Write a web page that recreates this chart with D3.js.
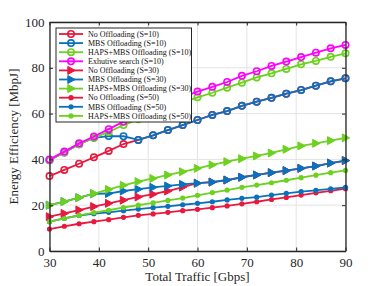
<!DOCTYPE html>
<html>
<head>
<meta charset="utf-8">
<script src="https://cdn.jsdelivr.net/npm/d3@7"></script>
<style>
  body { margin: 0; background: #fff; }
  svg text { font-family: "Liberation Serif", "DejaVu Serif", serif; }
</style>
</head>
<body>
<div id="chart"></div>
<script>
// traffic values (Gbps), one point every 3 Gbps
var traffic = [30, 33, 36, 39, 42, 45, 48, 51, 54, 57, 60, 63, 66, 69, 72, 75, 78, 81, 84, 87, 90];

// energy efficiency [MbpJ]
var noOff10   = [32.7, 35.4, 38.1, 40.9, 43.7, 46.7, 48.5, 50.5, 52.8, 55.0, 57.2, 59.4, 61.1, 63.4, 65.2, 66.9, 68.7, 70.3, 72.2, 74.1, 75.4];
var mbs10     = [39.6, 43.0, 46.6, 49.4, 50.2, 50.1, 48.5, 50.5, 52.8, 55.0, 57.2, 59.4, 61.1, 63.4, 65.2, 66.9, 68.7, 70.3, 72.2, 74.1, 75.4];
var haps10    = [39.6, 43.0, 46.6, 49.4, 52.0, 55.0, 57.5, 60.0, 62.5, 64.8, 67.1, 69.1, 71.3, 73.5, 75.8, 77.6, 79.5, 81.5, 83.0, 84.8, 86.3];
var exhaust10 = [40.0, 43.4, 47.0, 50.0, 53.2, 56.5, 59.5, 62.3, 64.9, 67.3, 69.6, 71.7, 73.8, 76.5, 78.5, 80.8, 82.7, 84.7, 86.6, 88.5, 90.0];
var noOff30   = [15.0, 16.4, 17.9, 19.4, 20.8, 22.2, 23.6, 24.8, 26.2, 27.9, 29.6, 30.1, 31.0, 32.2, 33.2, 34.2, 35.1, 36.1, 37.1, 38.4, 39.5];
var mbs30     = [20.0, 21.6, 23.3, 25.0, 25.1, 26.2, 27.0, 27.8, 28.4, 29.1, 29.6, 30.1, 31.0, 32.2, 33.2, 34.2, 35.1, 36.1, 37.1, 38.4, 39.5];
var haps30    = [20.0, 21.6, 23.3, 25.1, 26.9, 28.7, 30.3, 31.7, 33.2, 34.6, 36.1, 37.6, 39.0, 40.3, 41.5, 42.8, 44.4, 45.9, 47.0, 48.2, 49.4];
var noOff50   = [9.6, 10.8, 11.9, 12.8, 13.7, 14.7, 15.6, 16.2, 16.9, 17.6, 18.2, 18.9, 19.7, 20.6, 21.5, 22.5, 23.4, 24.4, 25.4, 26.3, 27.2];
var mbs50     = [12.8, 14.2, 15.5, 16.3, 16.9, 17.6, 18.3, 18.9, 19.5, 20.2, 20.8, 21.5, 22.3, 23.0, 23.5, 24.4, 25.2, 25.9, 26.5, 27.1, 27.8];
var haps50    = [12.8, 14.2, 15.6, 16.8, 17.8, 19.0, 20.0, 21.0, 22.1, 23.1, 24.3, 25.5, 26.6, 27.8, 28.8, 29.8, 30.9, 32.0, 33.1, 34.2, 35.2];

var seriesNames = [
  "No Offloading (S=10)", "MBS Offloading (S=10)", "HAPS+MBS Offloading (S=10)", "Exhutive search (S=10)",
  "No Offloading (S=30)", "MBS Offloading (S=30)", "HAPS+MBS Offloading (S=30)",
  "No Offloading (S=50)", "MBS Offloading (S=50)", "HAPS+MBS Offloading (S=50)"
];
var seriesValues = [noOff10, mbs10, haps10, exhaust10, noOff30, mbs30, haps30, noOff50, mbs50, haps50];

var xTicks = [30, 40, 50, 60, 70, 80, 90];
var yTicks = [0, 20, 40, 60, 80, 100];

var red = "#e8193f", blue = "#0a72bd", green = "#6dd11f", magenta = "#ff00ff";
var styles = [
  { color: red,     marker: "circle" },
  { color: blue,    marker: "circle" },
  { color: green,   marker: "circle" },
  { color: magenta, marker: "circle" },
  { color: red,     marker: "tri" },
  { color: blue,    marker: "tri" },
  { color: green,   marker: "tri" },
  { color: red,     marker: "dot" },
  { color: blue,    marker: "dot" },
  { color: green,   marker: "dot" }
];

var svgWidth = 382, svgHeight = 286;
var plot = { left: 49.5, right: 345.5, top: 22, bottom: 251 };

var svg = d3.select("#chart").append("svg")
  .attr("width", svgWidth)
  .attr("height", svgHeight);

var xScale = d3.scaleLinear().domain([30, 90]).range([plot.left, plot.right]);
var yScale = d3.scaleLinear().domain([0, 100]).range([plot.bottom, plot.top]);

// grid lines
var grid = svg.append("g");
grid.selectAll(".gx").data(xTicks).enter().append("line")
  .attr("x1", d => xScale(d)).attr("x2", d => xScale(d))
  .attr("y1", plot.top).attr("y2", plot.bottom)
  .attr("stroke", "#e3e3e3").attr("stroke-width", 1);
grid.selectAll(".gy").data(yTicks).enter().append("line")
  .attr("x1", plot.left).attr("x2", plot.right)
  .attr("y1", d => yScale(d)).attr("y2", d => yScale(d))
  .attr("stroke", "#e3e3e3").attr("stroke-width", 1);

// draw a marker at (0,0) into a group
function drawMarker(g, s) {
  if (s.marker === "circle") {
    g.append("circle").attr("r", 3.2)
      .attr("fill", "none").attr("stroke", s.color).attr("stroke-width", 1.6);
  } else if (s.marker === "tri") {
    g.append("path").attr("d", d3.line()([[-3.2, -4], [4.2, 0], [-3.2, 4]]) + "Z")
      .attr("fill", s.color).attr("stroke", s.color).attr("stroke-width", 1);
  } else {
    g.append("circle").attr("r", 2.6).attr("fill", s.color);
  }
}

// series lines and markers
var line = d3.line().x(d => xScale(d[0])).y(d => yScale(d[1]));
seriesValues.forEach(function(vals, i) {
  var s = styles[i];
  var pts = traffic.map((t, j) => [t, vals[j]]);
  var g = svg.append("g");
  g.append("path").datum(pts)
    .attr("d", line)
    .attr("fill", "none")
    .attr("stroke", s.color)
    .attr("stroke-width", 1.8);
  pts.forEach(function(p) {
    var m = g.append("g").attr("transform", `translate(${xScale(p[0])},${yScale(p[1])})`);
    drawMarker(m, s);
  });
});

// axes box with inward ticks on all sides
var axisG = svg.append("g");
axisG.append("g").attr("transform", `translate(0,${plot.bottom})`)
  .call(d3.axisBottom(xScale).tickValues(xTicks).tickSizeInner(-3.5).tickSizeOuter(0).tickPadding(7));
axisG.append("g").attr("transform", `translate(0,${plot.top})`)
  .call(d3.axisTop(xScale).tickValues(xTicks).tickSizeInner(-3.5).tickSizeOuter(0).tickFormat(""));
axisG.append("g").attr("transform", `translate(${plot.left},0)`)
  .call(d3.axisLeft(yScale).tickValues(yTicks).tickSizeInner(-3.5).tickSizeOuter(0).tickPadding(5));
axisG.append("g").attr("transform", `translate(${plot.right},0)`)
  .call(d3.axisRight(yScale).tickValues(yTicks).tickSizeInner(-3.5).tickSizeOuter(0).tickFormat(""));
axisG.selectAll(".domain").attr("stroke", "#262626").attr("stroke-width", 1.3);
axisG.selectAll(".tick line").attr("stroke", "#262626").attr("stroke-width", 1);
axisG.selectAll(".tick text").attr("font-size", 13).attr("fill", "#262626")
  .attr("font-family", "'Liberation Serif', serif");

// axis labels
svg.append("text")
  .attr("x", (plot.left + plot.right) / 2).attr("y", 281)
  .attr("text-anchor", "middle").attr("font-size", 13).attr("fill", "#262626")
  .text("Total Traffic [Gbps]");
svg.append("text")
  .attr("transform", `translate(18,${(plot.top + plot.bottom) / 2}) rotate(-90)`)
  .attr("text-anchor", "middle").attr("font-size", 13).attr("fill", "#262626")
  .text("Energy Efficiency [MbpJ]");

// legend
var legend = { x: 56, y: 28, w: 135.5, h: 94 };
var lg = svg.append("g");
lg.append("rect")
  .attr("x", legend.x).attr("y", legend.y).attr("width", legend.w).attr("height", legend.h)
  .attr("fill", "#fff").attr("stroke", "#262626").attr("stroke-width", 1);
seriesNames.forEach(function(name, i) {
  var yy = 34 + i * 9.1;
  lg.append("line")
    .attr("x1", 59).attr("x2", 83).attr("y1", yy).attr("y2", yy)
    .attr("stroke", styles[i].color).attr("stroke-width", 1.8);
  var m = lg.append("g").attr("transform", `translate(71,${yy})`);
  drawMarker(m, styles[i]);
  lg.append("text")
    .attr("x", 88).attr("y", yy + 2.7)
    .attr("font-size", 8).attr("fill", "#111")
    .text(name);
});
</script>
</body>
</html>
